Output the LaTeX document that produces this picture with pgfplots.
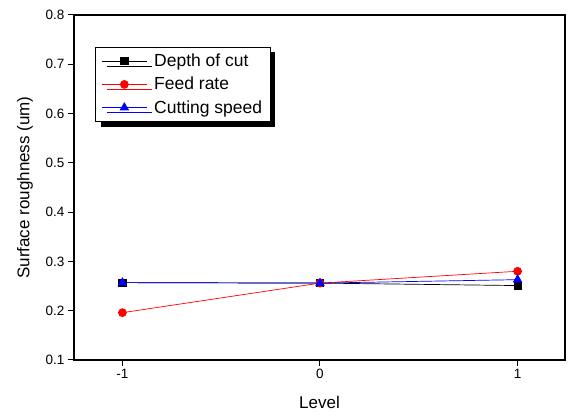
\documentclass[border=0pt]{standalone}
\usepackage{pgfplots}
\pgfplotsset{compat=1.18}
\usepackage{fontspec}
\setmainfont{Liberation Sans}
\usetikzlibrary{shadows}

\begin{document}
\begin{tikzpicture}
\begin{axis}[
  name=ax,
  scale only axis,
  width=491pt, height=345pt,
  xmin=-1.245, xmax=1.24,
  ymin=0.1, ymax=0.8,
  xtick={-1,0,1},
  ytick={0.1,0.2,...,0.8},
  yticklabel style={/pgf/number format/fixed,/pgf/number format/precision=1,/pgf/number format/fixed zerofill},
  /pgf/number format/assume math mode=true,
  tick label style={font=\fontsize{13.5}{16}\selectfont},
  label style={font=\fontsize{17}{20}\selectfont},
  xlabel={Level},
  ylabel={Surface roughness (um)},
  xlabel style={yshift=-10pt},
  ylabel style={yshift=6pt},
  axis line style={line width=1.2pt},
  tick style={line width=1pt, black},
  tick align=outside,
  major tick length=6pt,
  xtick pos=bottom, ytick pos=left,
  legend cell align=left,
  legend style={
    at={(0.043,0.908)}, anchor=north west,
    font=\fontsize{17.5}{21}\selectfont,
    draw=black, line width=0.8pt, fill=white,
    inner xsep=6pt, inner ysep=5pt,
    row sep=5pt,
    /tikz/every odd column/.append style={column sep=5pt},
    drop shadow={shadow xshift=5pt, shadow yshift=-5pt, opacity=1, fill=black},
  },
  legend image code/.code={
    \draw[#1, mark=none] (0pt,0pt) -- (45pt,0pt);
    \draw[#1, only marks] plot coordinates {(22.5pt,0pt)};
  },
]
\addplot[black, line width=0.7pt, mark=square*, mark size=3.6pt, mark options={solid}]
  coordinates {(-1,0.257) (0,0.256) (1,0.251)};
\addlegendentry{Depth of cut}
\addplot[red, line width=0.7pt, mark=*, mark size=4pt]
  coordinates {(-1,0.196) (0,0.256) (1,0.280)};
\addlegendentry{Feed rate}
\addplot[blue, line width=0.7pt, mark=triangle*, mark size=4.8pt]
  coordinates {(-1,0.257) (0,0.256) (1,0.263)};
\addlegendentry{Cutting speed}
\end{axis}
\pgfresetboundingbox
\path (ax.south west) ++(-74pt,-57pt) coordinate (bl);
\path (ax.north east) ++(5pt,15pt) coordinate (tr);
\useasboundingbox (bl) rectangle (tr);
\end{tikzpicture}
\end{document}
